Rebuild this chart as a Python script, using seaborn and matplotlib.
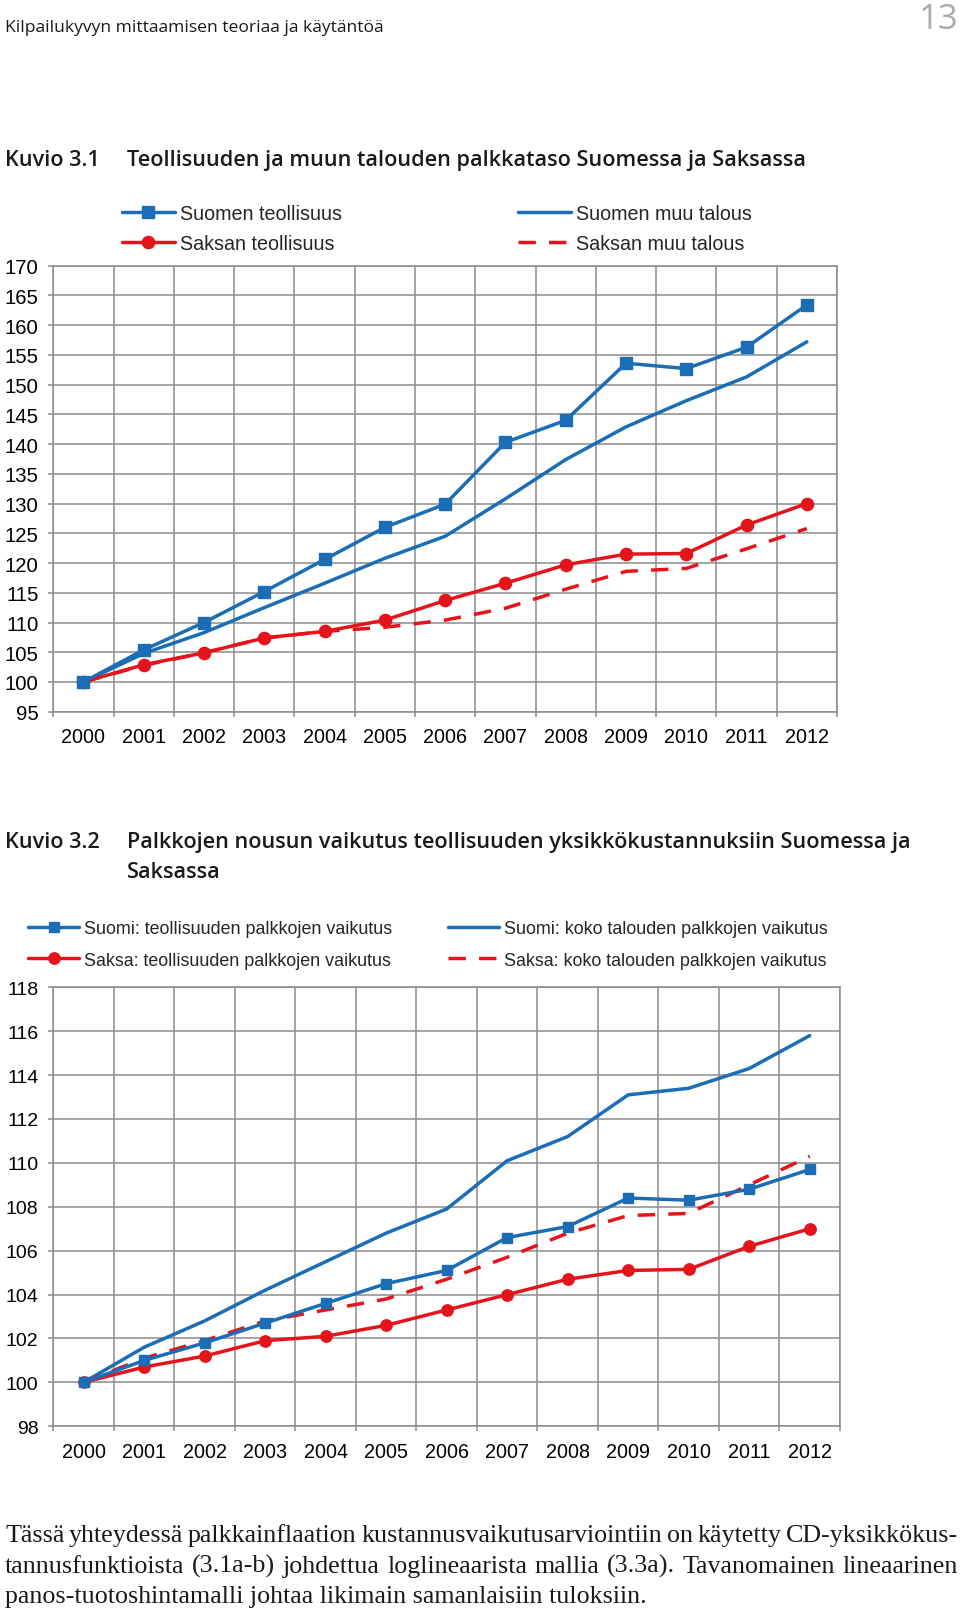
import matplotlib
matplotlib.use("Agg")
import matplotlib.pyplot as plt
import seaborn as sns
import numpy as np
from matplotlib.ticker import FixedLocator

# ---------------- data ----------------
years = list(range(2000, 2013))
year_labels = [str(y) for y in years]

# Kuvio 3.1
fi_teoll = [100, 105.4, 110.0, 115.2, 120.6, 126.0, 129.9, 140.3, 144.0, 153.6, 152.7, 156.3, 163.4]
fi_muu = [100, 104.8, 108.3, 112.5, 116.6, 120.8, 124.5, 130.8, 137.4, 142.9, 147.3, 151.3, 157.2]
de_teoll = [100, 102.9, 104.9, 107.4, 108.5, 110.4, 113.7, 116.6, 119.7, 121.5, 121.6, 126.4, 130.0]
de_muu = [100, 102.8, 104.9, 107.4, 108.5, 109.2, 110.4, 112.4, 115.6, 118.6, 119.1, 122.4, 125.8]
labels1 = ["Suomen teollisuus", "Suomen muu talous", "Saksan teollisuus", "Saksan muu talous"]
yticks1 = list(range(95, 171, 5))

# Kuvio 3.2
fi_teoll2 = [100, 101.0, 101.8, 102.7, 103.6, 104.5, 105.1, 106.6, 107.1, 108.4, 108.3, 108.8, 109.7]
fi_koko2 = [100, 101.6, 102.8, 104.2, 105.5, 106.8, 107.9, 110.1, 111.2, 113.1, 113.4, 114.3, 115.8]
de_teoll2 = [100, 100.7, 101.2, 101.9, 102.1, 102.6, 103.3, 104.0, 104.7, 105.1, 105.15, 106.2, 107.0]
de_koko2 = [100, 101.1, 101.9, 102.8, 103.3, 103.8, 104.7, 105.7, 106.8, 107.6, 107.7, 109.0, 110.3]
labels2 = ["Suomi: teollisuuden palkkojen vaikutus", "Suomi: koko talouden palkkojen vaikutus",
           "Saksa: teollisuuden palkkojen vaikutus", "Saksa: koko talouden palkkojen vaikutus"]
yticks2 = list(range(98, 119, 2))

header = "Kilpailukyvyn mittaamisen teoriaa ja käytäntöä"
page_no = "13"
title1 = ("Kuvio 3.1", "Teollisuuden ja muun talouden palkkataso Suomessa ja Saksassa")
title2 = ("Kuvio 3.2", "Palkkojen nousun vaikutus teollisuuden yksikkökustannuksiin Suomessa ja", "Saksassa")
body = ["Tässä yhteydessä palkkainflaation kustannusvaikutusarviointiin on käytetty CD-yksikkökus-",
        "tannusfunktioista (3.1a-b) johdettua loglineaarista mallia (3.3a). Tavanomainen lineaarinen",
        "panos-tuotoshintamalli johtaa likimain samanlaisiin tuloksiin."]

# ---------------- style ----------------
sns.set_theme(style="white")
plt.rcParams["font.family"] = ["Liberation Sans", "DejaVu Sans"]

BLUE = "#1b6db5"
RED = "#e5141b"
GRID = "#8c8c8c"
W, H = 960, 1615
LW = 2.5

fig = plt.figure(figsize=(W / 100, H / 100), dpi=100)
fig.patch.set_facecolor("white")
renderer = fig.canvas.get_renderer()


def px_axes(l, t, r, b):
    return fig.add_axes([l / W, 1 - b / H, (r - l) / W, (b - t) / H])


def draw_chart(ax, series, ylim, yticks, ylabsize):
    for vals, color, marker, ls, ms, lab in series:
        kw = dict(marker=marker, markersize=ms, markeredgecolor=color, markeredgewidth=1) if marker else {}
        sns.lineplot(x=years, y=vals, ax=ax, color=color, linewidth=LW, linestyle=ls, label=lab, **kw)
    ax.set_xlim(1999.5, 2012.5)
    ax.set_ylim(*ylim)
    ax.set_xticks(years)
    ax.set_xticklabels(year_labels)
    ax.xaxis.set_minor_locator(FixedLocator(np.arange(1999.5, 2013.0, 1.0)))
    ax.set_yticks(yticks)
    ax.tick_params(axis="x", which="major", bottom=True, length=0, pad=11, labelsize=14.2, labelcolor="black")
    ax.tick_params(axis="x", which="minor", bottom=True, length=3.6, width=1.1, color=GRID, direction="out")
    ax.tick_params(axis="y", which="major", left=True, length=3.6, width=1.1, color=GRID, direction="out",
                   pad=7, labelsize=ylabsize, labelcolor="black")
    ax.grid(True, which="minor", axis="x", color=GRID, linewidth=1.1)
    ax.grid(True, which="major", axis="y", color=GRID, linewidth=1.1)
    ax.grid(False, which="major", axis="x")
    ax.set_axisbelow(True)
    for sp in ax.spines.values():
        sp.set_color(GRID)
        sp.set_linewidth(1.1)
    ax.set_xlabel("")
    ax.set_ylabel("")
    h, l = ax.get_legend_handles_labels()
    if ax.get_legend():
        ax.get_legend().remove()
    return dict(zip(l, h))


DASH = (0, (5.0, 3.8))

ax1 = px_axes(53.3, 266.7, 837, 712.7)
hd1 = draw_chart(ax1, [
    (fi_muu, BLUE, None, "-", 0, labels1[1]),
    (de_muu, RED, None, DASH, 0, labels1[3]),
    (de_teoll, RED, "o", "-", 8.8, labels1[2]),
    (fi_teoll, BLUE, "s", "-", 8.1, labels1[0]),
], (95, 170), yticks1, 14.6)

ax2 = px_axes(53.3, 988.3, 840, 1427.3)
hd2 = draw_chart(ax2, [
    (fi_koko2, BLUE, None, "-", 0, labels2[1]),
    (de_teoll2, RED, "o", "-", 8.2, labels2[2]),
    (de_koko2, RED, None, DASH, 0, labels2[3]),
    (fi_teoll2, BLUE, "s", "-", 7.5, labels2[0]),
], (98, 118), yticks2, 14.0)


def add_legend(hd, labs, x0, yc, fs, hl, htp, ls):
    fig.legend([hd[k] for k in labs], labs, loc="center left", bbox_to_anchor=(x0 / W, 1 - yc / H),
               frameon=False, borderpad=0, borderaxespad=0, handlelength=hl, handletextpad=htp,
               labelspacing=ls, fontsize=fs, numpoints=1)


add_legend(hd1, [labels1[0], labels1[2]], 121.7, 229.5, 14.2, 2.7, 0.26, 0.52)
add_legend(hd1, [labels1[1], labels1[3]], 518, 229.5, 14.2, 2.7, 0.26, 0.52)
add_legend(hd2, [labels2[0], labels2[2]], 28, 945.5, 12.9, 2.85, 0.25, 0.8)
add_legend(hd2, [labels2[1], labels2[3]], 448, 945.5, 12.9, 2.85, 0.25, 0.8)


# ---------------- texts ----------------
def put(s, x, yb, fs, ha="left", **kw):
    return fig.text(x / W, 1 - yb / H, s, fontsize=fs, ha=ha, va="baseline", **kw)


def fit_size(s, target_w, **kw):
    t = fig.text(0, 0, s, fontsize=20, **kw)
    w = t.get_window_extent(renderer).width
    t.remove()
    return 20 * target_w / w


SANS2 = ["Open Sans", "DejaVu Sans"]
fs_head = fit_size(header, 378, family=SANS2)
put(header, 5, 31.7, fs_head, family=SANS2, color="#1a1a1a")
put(page_no, 958, 29, 25, ha="right", family=SANS2, color="#ababab")

fs_t = fit_size(title1[1], 678, family=SANS2, fontweight="semibold")
for s, x, yb in [(title1[0], 5, 166), (title1[1], 127, 166), (title2[0], 5, 848),
                 (title2[1], 127, 848), (title2[2], 127, 878)]:
    put(s, x, yb, fs_t, family=SANS2, fontweight="semibold", color="#1a1a1a")

SERIF = ["Liberation Serif", "DejaVu Serif"]
fs_b = fit_size(body[2], 643, family=SERIF)
baselines = [1541.7, 1573, 1603.5]


def justified(s, x0, x1, yb):
    words = s.split(" ")
    widths = []
    for wd in words:
        t = fig.text(0, 0, wd, fontsize=fs_b, family=SERIF)
        widths.append(t.get_window_extent(renderer).width)
        t.remove()
    gap = (x1 - x0 - sum(widths)) / (len(words) - 1)
    x = x0
    for wd, w in zip(words, widths):
        put(wd, x, yb, fs_b, family=SERIF, color="#1a1a1a")
        x += w + gap


justified(body[0], 5, 958, baselines[0])
justified(body[1], 5, 958, baselines[1])
put(body[2], 5, baselines[2], fs_b, family=SERIF, color="#1a1a1a")

fig.savefig("out.png", dpi=100, facecolor="white")
